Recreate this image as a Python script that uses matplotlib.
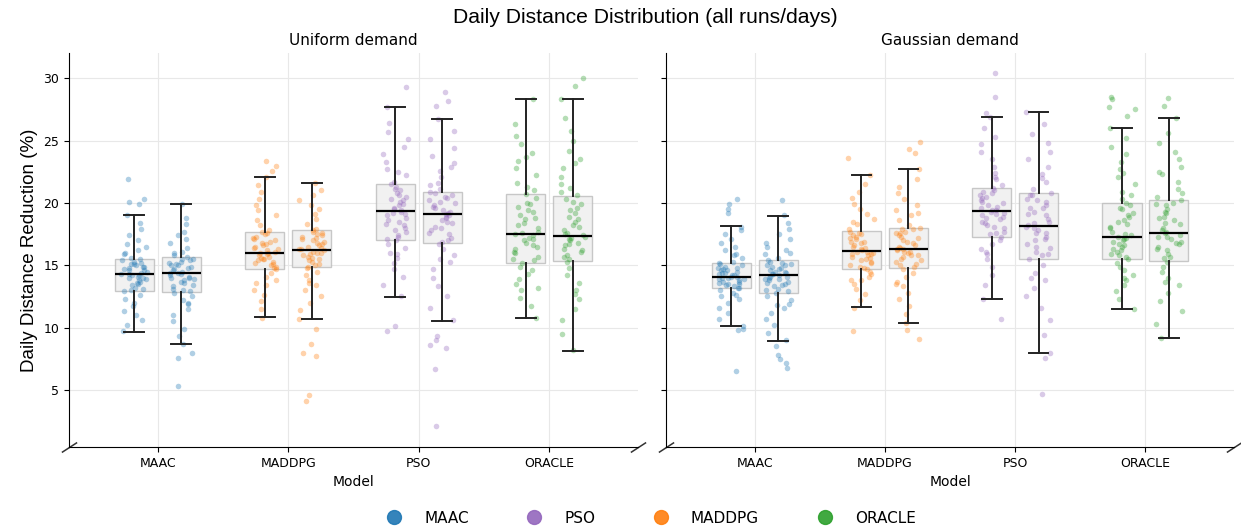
import numpy as np
import matplotlib
matplotlib.use("Agg")
import matplotlib.pyplot as plt
from matplotlib.lines import Line2D

models = ["MAAC", "MADDPG", "PSO", "ORACLE"]
model_colors = ["tab:blue", "tab:orange", "tab:purple", "tab:green"]
panels = ["Uniform demand", "Gaussian demand"]
legend_order = ["MAAC", "PSO", "MADDPG", "ORACLE"]

# box stats, two boxes per model:
# MAAC a, MAAC b, MADDPG a, MADDPG b, PSO a, PSO b, ORACLE a, ORACLE b
uni_whislo = [9.68, 8.66, 10.83, 10.67, 12.46, 10.56, 10.75, 8.16]
uni_q1 = [12.97, 12.83, 14.73, 14.84, 17.03, 16.76, 15.16, 15.35]
uni_med = [14.28, 14.36, 15.99, 16.23, 19.33, 19.12, 17.51, 17.38]
uni_q3 = [15.48, 15.70, 17.70, 17.83, 21.50, 20.91, 20.72, 20.56]
uni_whishi = [19.00, 19.92, 22.11, 21.58, 27.73, 26.74, 28.32, 28.32]

gau_whislo = [10.13, 8.96, 11.63, 10.40, 12.33, 8.00, 11.50, 9.17]
gau_q1 = [13.16, 12.75, 14.68, 14.76, 17.30, 15.51, 15.48, 15.32]
gau_med = [14.09, 14.20, 16.18, 16.28, 19.33, 18.18, 17.30, 17.59]
gau_q3 = [15.16, 15.45, 17.75, 18.02, 21.23, 20.78, 19.97, 20.24]
gau_whishi = [18.13, 18.96, 22.25, 22.70, 26.93, 27.33, 26.04, 26.82]

# daily values (approximate)
uni_maac_a = [9.7, 10.2, 10.6, 11.0, 11.3, 11.7, 12.0, 12.3, 12.6, 12.9,
              13.0, 13.2, 13.4, 13.6, 13.7, 13.9, 14.0, 14.1, 14.2, 14.3,
              14.3, 14.5, 14.6, 14.8, 14.9, 15.0, 15.1, 15.2, 15.4, 15.5,
              15.6, 15.9, 16.2, 16.5, 16.7, 17.0, 17.4, 17.9, 18.4, 19.0,
              13.1, 13.5, 13.8, 14.0, 14.2, 14.4, 14.6, 14.7, 14.9, 15.1,
              15.3, 16.0, 19.9, 20.1, 20.3, 21.9]
uni_maac_b = [8.7, 9.3, 9.9, 10.5, 11.0, 11.5, 11.9, 12.2, 12.5, 12.8,
              12.9, 13.1, 13.4, 13.6, 13.8, 13.9, 14.0, 14.1, 14.2, 14.4,
              14.4, 14.6, 14.7, 14.9, 15.0, 15.1, 15.3, 15.4, 15.5, 15.7,
              15.8, 16.1, 16.4, 16.8, 17.1, 17.4, 17.7, 18.3, 18.8, 19.9,
              13.0, 13.3, 13.7, 14.0, 14.3, 14.5, 14.8, 15.0, 15.2, 15.5,
              16.0, 12.0, 5.3, 7.6, 8.0]
uni_maddpg_a = [10.8, 11.5, 12.1, 12.6, 13.0, 13.4, 13.8, 14.1, 14.4, 14.7,
                14.8, 15.0, 15.1, 15.3, 15.4, 15.5, 15.6, 15.8, 15.9, 16.0,
                16.0, 16.2, 16.4, 16.6, 16.8, 16.9, 17.1, 17.3, 17.5, 17.7,
                17.8, 18.2, 18.6, 19.0, 19.4, 19.8, 20.3, 20.9, 21.4, 22.1,
                14.9, 15.2, 15.5, 15.7, 16.1, 16.3, 16.5, 16.7, 17.0, 17.2,
                17.6, 13.6, 22.6, 23.0, 23.4]
uni_maddpg_b = [10.7, 11.4, 12.0, 12.5, 13.0, 13.4, 13.8, 14.2, 14.5, 14.8,
                14.9, 15.1, 15.3, 15.5, 15.6, 15.8, 15.9, 16.0, 16.1, 16.2,
                16.3, 16.5, 16.6, 16.8, 17.0, 17.2, 17.4, 17.5, 17.7, 17.8,
                17.9, 18.3, 18.7, 19.1, 19.5, 19.8, 20.2, 20.6, 21.0, 21.6,
                15.0, 15.4, 15.7, 16.0, 16.3, 16.4, 16.7, 16.9, 17.1, 17.3,
                17.6, 13.6, 4.1, 4.6, 7.7, 8.0, 8.7, 9.9]
uni_pso_a = [12.5, 13.4, 14.1, 14.7, 15.2, 15.6, 16.0, 16.4, 16.7, 17.0,
             17.1, 17.4, 17.7, 18.0, 18.3, 18.5, 18.8, 19.0, 19.2, 19.3,
             19.4, 19.6, 19.8, 20.1, 20.3, 20.6, 20.8, 21.0, 21.3, 21.5,
             21.7, 22.2, 22.7, 23.3, 23.9, 24.5, 25.1, 25.7, 26.4, 27.7,
             17.3, 17.8, 18.2, 18.6, 19.1, 19.5, 19.9, 20.2, 20.5, 21.1,
             22.5, 15.9, 9.7, 10.1, 29.3]
uni_pso_b = [10.6, 11.6, 12.5, 13.3, 14.0, 14.7, 15.3, 15.8, 16.3, 16.7,
             16.9, 17.2, 17.5, 17.8, 18.1, 18.4, 18.6, 18.8, 19.0, 19.1,
             19.2, 19.4, 19.6, 19.8, 20.0, 20.2, 20.4, 20.6, 20.8, 20.9,
             21.1, 21.6, 22.1, 22.6, 23.2, 23.8, 24.4, 25.1, 25.8, 26.7,
             17.0, 17.6, 18.0, 18.5, 18.9, 19.3, 19.7, 20.1, 20.5, 21.4,
             22.9, 15.5, 2.1, 6.7, 8.4, 8.6, 9.0, 9.3, 27.8, 28.2, 28.9]
uni_oracle_a = [10.8, 11.7, 12.4, 13.0, 13.5, 13.9, 14.3, 14.6, 14.9, 15.2,
                15.4, 15.7, 16.0, 16.3, 16.6, 16.8, 17.0, 17.2, 17.4, 17.5,
                17.7, 18.0, 18.4, 18.7, 19.0, 19.4, 19.7, 20.0, 20.4, 20.7,
                21.0, 21.6, 22.2, 22.8, 23.4, 24.0, 24.7, 25.4, 26.3, 28.3,
                15.5, 16.1, 16.5, 17.1, 17.6, 18.2, 18.8, 19.3, 19.9, 21.3,
                23.7, 13.2]
uni_oracle_b = [8.2, 9.5, 10.6, 11.5, 12.3, 13.0, 13.6, 14.2, 14.8, 15.3,
                15.5, 15.8, 16.1, 16.3, 16.6, 16.8, 17.0, 17.1, 17.3, 17.4,
                17.5, 17.8, 18.2, 18.5, 18.9, 19.2, 19.6, 19.9, 20.3, 20.6,
                20.9, 21.5, 22.1, 22.8, 23.5, 24.2, 25.0, 25.8, 26.8, 28.3,
                15.7, 16.2, 16.7, 17.2, 17.6, 18.1, 18.7, 19.4, 20.1, 21.2,
                23.2, 12.7, 29.4, 30.0]

gau_maac_a = [10.1, 10.7, 11.2, 11.6, 12.0, 12.3, 12.6, 12.8, 13.0, 13.2,
              13.3, 13.4, 13.5, 13.6, 13.7, 13.8, 13.9, 14.0, 14.05, 14.1,
              14.2, 14.3, 14.4, 14.5, 14.6, 14.7, 14.8, 14.9, 15.0, 15.2,
              15.3, 15.6, 15.9, 16.2, 16.5, 16.8, 17.1, 17.5, 17.8, 18.1,
              13.2, 13.5, 13.7, 13.9, 14.0, 14.2, 14.4, 14.6, 14.8, 15.1,
              15.8, 12.5, 6.5, 9.8, 9.9, 19.2, 19.5, 19.9, 20.3]
gau_maac_b = [9.0, 9.6, 10.2, 10.7, 11.2, 11.6, 11.9, 12.2, 12.5, 12.8,
              12.9, 13.1, 13.3, 13.5, 13.7, 13.8, 13.9, 14.0, 14.1, 14.2,
              14.3, 14.4, 14.5, 14.6, 14.8, 14.9, 15.0, 15.1, 15.3, 15.4,
              15.6, 15.9, 16.2, 16.5, 16.8, 17.1, 17.5, 17.9, 18.4, 19.0,
              13.0, 13.4, 13.6, 13.9, 14.1, 14.3, 14.5, 14.7, 15.0, 15.2,
              16.0, 11.8, 6.8, 7.2, 7.5, 7.8, 8.5, 20.2]
gau_maddpg_a = [11.6, 12.2, 12.7, 13.1, 13.5, 13.8, 14.1, 14.3, 14.5, 14.7,
                14.8, 15.0, 15.2, 15.4, 15.5, 15.7, 15.8, 15.9, 16.0, 16.1,
                16.2, 16.4, 16.6, 16.8, 16.9, 17.1, 17.3, 17.4, 17.6, 17.7,
                17.9, 18.3, 18.7, 19.1, 19.5, 19.9, 20.4, 20.9, 21.5, 22.2,
                14.9, 15.3, 15.6, 15.9, 16.1, 16.3, 16.5, 16.9, 17.2, 17.5,
                18.5, 13.8, 9.7, 23.6]
gau_maddpg_b = [10.4, 11.1, 11.7, 12.3, 12.8, 13.3, 13.7, 14.1, 14.4, 14.7,
                14.9, 15.1, 15.3, 15.5, 15.7, 15.8, 16.0, 16.1, 16.2, 16.3,
                16.4, 16.6, 16.8, 17.0, 17.2, 17.4, 17.6, 17.7, 17.9, 18.0,
                18.2, 18.6, 19.0, 19.4, 19.8, 20.3, 20.8, 21.3, 21.9, 22.7,
                15.0, 15.4, 15.8, 16.1, 16.3, 16.5, 16.9, 17.3, 17.6, 17.9,
                19.2, 13.5, 9.1, 9.8, 24.0, 24.3, 24.9]
gau_pso_a = [12.3, 13.4, 14.2, 14.9, 15.5, 15.9, 16.3, 16.7, 17.0, 17.3,
             17.5, 17.7, 18.0, 18.2, 18.5, 18.7, 18.9, 19.1, 19.2, 19.3,
             19.4, 19.6, 19.8, 20.0, 20.2, 20.4, 20.6, 20.8, 21.0, 21.2,
             21.4, 21.9, 22.4, 22.9, 23.5, 24.1, 24.7, 25.3, 26.0, 26.9,
             17.6, 18.1, 18.4, 18.8, 19.0, 19.4, 19.7, 20.1, 20.5, 20.9,
             22.1, 16.1, 10.7, 27.2, 28.5, 30.4]
gau_pso_b = [8.0, 9.4, 10.6, 11.6, 12.5, 13.2, 13.8, 14.4, 15.0, 15.5,
             15.8, 16.1, 16.4, 16.7, 17.0, 17.3, 17.6, 17.8, 18.0, 18.2,
             18.4, 18.7, 19.0, 19.3, 19.6, 19.8, 20.1, 20.3, 20.6, 20.8,
             21.1, 21.7, 22.3, 22.9, 23.5, 24.1, 24.8, 25.5, 26.3, 27.3,
             15.9, 16.5, 17.1, 17.6, 18.1, 18.5, 19.1, 19.6, 20.2, 20.6,
             22.0, 14.0, 4.7, 7.6]
gau_oracle_a = [11.5, 12.3, 12.9, 13.4, 13.8, 14.2, 14.6, 14.9, 15.2, 15.5,
                15.7, 15.9, 16.1, 16.3, 16.5, 16.7, 16.9, 17.0, 17.2, 17.3,
                17.4, 17.7, 18.0, 18.3, 18.6, 18.9, 19.2, 19.5, 19.8, 20.0,
                20.3, 20.9, 21.5, 22.1, 22.7, 23.3, 23.9, 24.5, 25.2, 26.0,
                15.8, 16.2, 16.6, 17.1, 17.5, 18.1, 18.5, 19.0, 19.6, 20.6,
                22.4, 14.0, 27.0, 27.5, 27.7, 28.3, 28.5]
gau_oracle_b = [9.2, 10.3, 11.3, 12.1, 12.8, 13.4, 14.0, 14.5, 14.9, 15.3,
                15.6, 15.9, 16.2, 16.5, 16.7, 16.9, 17.1, 17.3, 17.4, 17.6,
                17.7, 18.0, 18.3, 18.6, 18.9, 19.2, 19.5, 19.8, 20.0, 20.2,
                20.5, 21.1, 21.7, 22.3, 22.9, 23.5, 24.1, 24.8, 25.6, 26.8,
                15.7, 16.3, 16.8, 17.3, 17.8, 18.4, 18.8, 19.3, 19.9, 20.8,
                22.5, 13.7, 27.8, 28.4]

uni_points = [uni_maac_a, uni_maac_b, uni_maddpg_a, uni_maddpg_b,
              uni_pso_a, uni_pso_b, uni_oracle_a, uni_oracle_b]
gau_points = [gau_maac_a, gau_maac_b, gau_maddpg_a, gau_maddpg_b,
              gau_pso_a, gau_pso_b, gau_oracle_a, gau_oracle_b]


def box_stats(lo, q1, med, q3, hi):
    return [{"whislo": a, "q1": b, "med": c, "q3": d, "whishi": e, "fliers": []}
            for a, b, c, d, e in zip(lo, q1, med, q3, hi)]


panel_stats = [
    box_stats(uni_whislo, uni_q1, uni_med, uni_q3, uni_whishi),
    box_stats(gau_whislo, gau_q1, gau_med, gau_q3, gau_whishi),
]
panel_points = [uni_points, gau_points]

fig = plt.figure(figsize=(12.41, 5.29), dpi=100)
ax1 = fig.add_axes([0.0556, 0.155, 0.4585, 0.745])
ax2 = fig.add_axes([0.5367, 0.155, 0.4577, 0.745], sharey=ax1)

rng = np.random.default_rng(3)  # only for horizontal jitter
offsets = [-0.18, 0.18]

for ax, title, stats, points in zip([ax1, ax2], panels, panel_stats, panel_points):
    positions = [m + offsets[k] for m in range(len(models)) for k in range(2)]

    # jittered daily points
    for i, vals in enumerate(points):
        color = model_colors[i // 2]
        xj = positions[i] + rng.uniform(-0.1, 0.1, len(vals))
        ax.scatter(xj, vals, s=16, color=color, alpha=0.35, linewidths=0, zorder=3)

    bp = ax.bxp(stats, positions=positions, widths=0.3, showfliers=False,
                patch_artist=True, zorder=4,
                boxprops=dict(facecolor="#eeeeee", edgecolor="#bbbbbb", linewidth=1, alpha=0.8),
                medianprops=dict(color="black", linewidth=1.6),
                whiskerprops=dict(color="#222222", linewidth=1.4),
                capprops=dict(color="#222222", linewidth=1.4))
    for b in bp["boxes"]:
        b.set_zorder(2)

    ax.set_xlim(-0.68, 3.68)
    ax.set_xticks(range(len(models)))
    ax.set_xticklabels(models)
    ax.set_xlabel("Model", fontsize=10)
    ax.set_title(title, fontsize=11)
    ax.grid(True, color="#e8e8e8", linewidth=0.8)
    ax.set_axisbelow(True)
    ax.tick_params(labelsize=9)
    ax.spines["top"].set_visible(False)
    ax.spines["right"].set_visible(False)

    # broken-axis marks at both ends of the bottom spine
    ax.plot([0, 1], [0, 0], transform=ax.transAxes, marker=[(-1, -0.65), (1, 0.65)],
            markersize=11, linestyle="none", color="#333333", mec="#333333",
            mew=1.1, clip_on=False)

ax1.set_ylim(0.43, 32.03)
ax1.set_yticks([5, 10, 15, 20, 25, 30])
ax1.set_ylabel("Daily Distance Reduction (%)", fontsize=13.5, family="Liberation Sans")
ax2.tick_params(labelleft=False)

fig.text(0.52, 0.966, "Daily Distance Distribution (all runs/days)",
         ha="center", va="center", fontsize=15.2, family="Liberation Sans")

handles = [Line2D([], [], marker="o", linestyle="", markersize=10, alpha=0.9,
                  color=model_colors[models.index(m)]) for m in legend_order]
fig.legend(handles, legend_order, loc="center", bbox_to_anchor=(0.5246, 0.0205),
           ncol=4, frameon=False, fontsize=11, handlelength=1.0,
           handletextpad=1.46, columnspacing=3.8)

fig.savefig("out.png", dpi=100)
